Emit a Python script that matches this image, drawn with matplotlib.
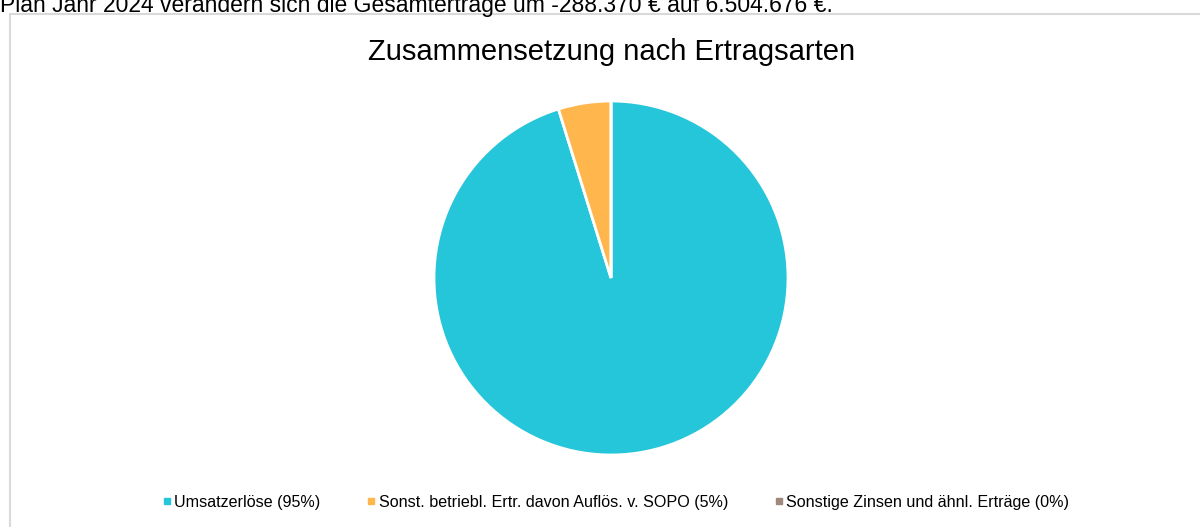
import matplotlib.pyplot as plt
from matplotlib.lines import Line2D
from matplotlib.patches import Rectangle

plt.rcParams['font.family'] = ['Liberation Sans', 'DejaVu Sans']

# Ertragsarten
labels = ["Umsatzerlöse", "Sonst. betriebl. Ertr. davon Auflös. v. SOPO", "Sonstige Zinsen und ähnl. Erträge"]
anteile = [95.2, 4.8, 0.0]
legend_pct = ["95%", "5%", "0%"]
farben = ["#26C6DA", "#FFB74D", "#A1887F"]

W, H = 1200, 527
fig = plt.figure(figsize=(W / 100, H / 100), dpi=100)

# angeschnittener Text oberhalb des Diagramms
fig.text(0, 1 - 12 / H, "Plan Jahr 2024 verändern sich die Gesamterträge um -288.370 € auf 6.504.676 €.",
         fontsize=16.5, va='baseline', ha='left', color='black')

# Rahmen des Diagrammbereichs
fig.patches.append(Rectangle((10 / W, -0.1), 1.2, 1 - 14 / H + 0.1, transform=fig.transFigure,
                             fill=False, edgecolor='#D9D9D9', linewidth=1.5))

cx, cy, r = 611, 278, 177
ax = fig.add_axes([(cx - r) / W, (H - cy - r) / H, 2 * r / W, 2 * r / H])
wedges, _ = ax.pie(anteile, colors=farben, startangle=90, counterclock=False,
                   wedgeprops=dict(edgecolor='white', linewidth=2))
ax.set_xlim(-1, 1)
ax.set_ylim(-1, 1)
ax.set_aspect('equal')
ax.axis('off')

fig.text(612 / W, 1 - 52 / H, "Zusammensetzung nach Ertragsarten", fontsize=21,
         ha='center', va='center', color='black')

handles = [Line2D([], [], marker='s', linestyle='none', markersize=4.5, color=c) for c in farben]
leg_labels = ["%s (%s)" % (l, p) for l, p in zip(labels, legend_pct)]
fig.legend(handles, leg_labels, loc='center', bbox_to_anchor=(616 / W, 1 - 502 / H), ncol=3,
           frameon=False, fontsize=11.6, handlelength=0.5, handletextpad=0.2, columnspacing=2.9)

fig.savefig("out.png", dpi=100)
